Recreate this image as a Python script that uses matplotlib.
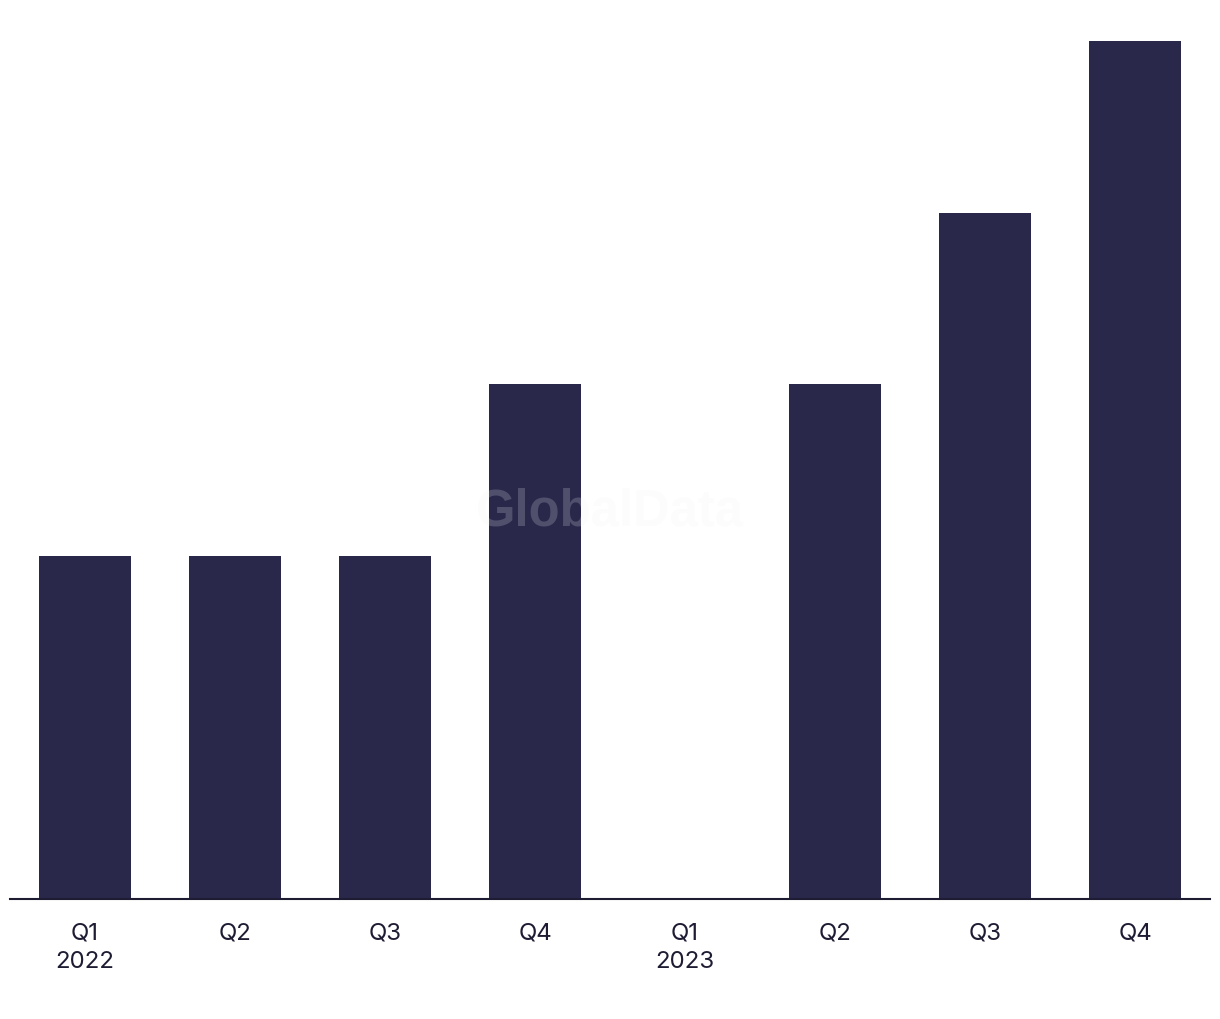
import matplotlib
matplotlib.use("Agg")
import matplotlib.pyplot as plt

# quarterly counts, Q1 2022 .. Q4 2023
quarters = ["Q1", "Q2", "Q3", "Q4", "Q1", "Q2", "Q3", "Q4"]
years = ["2022", "", "", "", "2023", "", "", ""]
values = [2, 2, 2, 3, 0, 3, 4, 5]

BAR_COLOR = "#29284b"
TEXT_COLOR = "#1e1c33"

fig = plt.figure(figsize=(12.2, 10.2), dpi=100)
ax = fig.add_axes([10 / 1220, 120 / 1020, 1200 / 1220, 858 / 1020])

x = range(len(values))
ax.bar(x, values, width=0.61, color=BAR_COLOR, zorder=2)

ax.set_xlim(-0.5, len(values) - 0.5)
ax.set_ylim(0, max(values))

labels = [q if not y else f"{q}\n{y}" for q, y in zip(quarters, years)]
ax.set_xticks(list(x))
ax.set_xticklabels(labels, fontsize=17.3, color=TEXT_COLOR, linespacing=1.42,
                   va="top", family=["Inter", "DejaVu Sans"])
ax.tick_params(axis="x", length=0, pad=16)
ax.set_yticks([])

for side in ("top", "right", "left"):
    ax.spines[side].set_visible(False)
ax.spines["bottom"].set_color(TEXT_COLOR)
ax.spines["bottom"].set_linewidth(1.5)
ax.spines["bottom"].set_zorder(3)

# watermark
fig.text(610 / 1220, 1 - 512 / 1020, "GlobalData", ha="center", va="center",
         fontsize=36.5, fontweight="bold", color="#f0f0f2", alpha=0.2,
         family=["Liberation Sans", "DejaVu Sans"], zorder=10)

fig.savefig("out.png", dpi=100)
